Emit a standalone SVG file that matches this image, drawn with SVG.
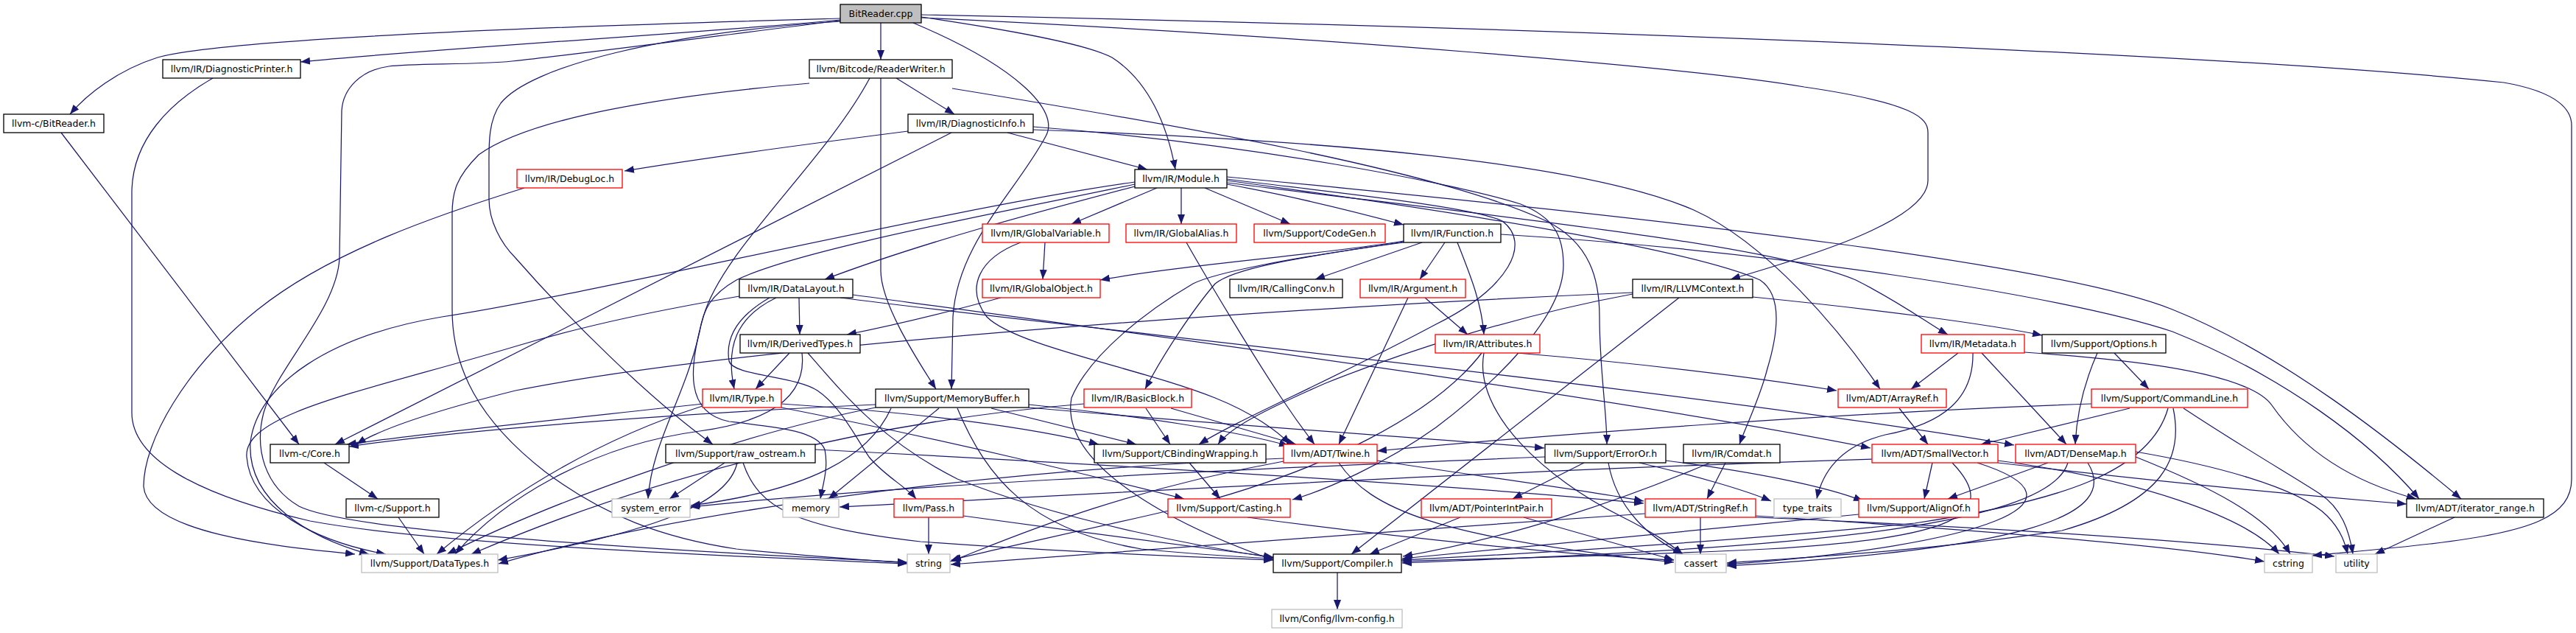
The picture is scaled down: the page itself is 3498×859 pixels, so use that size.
<svg xmlns="http://www.w3.org/2000/svg" width="3498" height="859" viewBox="0 0 3498 859">
<defs>
<style>
.n rect{fill:#fff;stroke:#000;stroke-width:1.3}
.n.r rect{stroke:#ff0000}
.n.g rect{stroke:#bfbfbf}
.n.root rect{fill:#bfbfbf}
text{font-family:"DejaVu Sans","Liberation Sans",sans-serif;font-size:12.5px;text-anchor:middle;fill:#000}
#edges path{fill:none;stroke:#191970;stroke-width:1.25;marker-end:url(#a)}
</style>
<marker id="a" viewBox="0 0 13 10" refX="13" refY="5" markerWidth="13" markerHeight="10" markerUnits="userSpaceOnUse" orient="auto"><path d="M0,0L13,5L0,10z" fill="#191970"/></marker>
</defs>
<rect width="3498" height="859" fill="#fff"/>
<g id="edges">
<path d="M1141,25 C900,32 320,48 214,78 C160,95 118,128 95,155"/>
<path d="M1141,27 C950,45 600,65 408,84"/>
<path d="M1141,28 C1000,45 800,72 695,83 C650,88 560,86 528,90 C490,95 466,120 464,150 L461,350 C458,420 375,500 358,560 C345,610 360,660 406,687 C480,725 1000,752 1232,763"/>
<path d="M1141,29 C900,45 720,90 680,140 C662,165 664,200 664,230 L664,270 C664,300 680,330 700,350 C770,430 880,540 968,603"/>
<path d="M1196,31 L1196,81"/>
<path d="M1240,31 C1380,90 1440,150 1420,185 C1380,260 1300,330 1294,430 L1292,528"/>
<path d="M1251,23 C1400,45 1480,62 1510,78 C1560,110 1585,170 1596,230"/>
<path d="M1251,20 C2000,35 3000,70 3400,112 C3475,125 3492,150 3492,170 L3492,650 C3492,700 3440,722 3300,738 C3250,744 3180,750 3140,754"/>
<path d="M1251,24 C1800,50 2300,92 2450,118 C2600,140 2618,160 2618,180 L2618,245 C2618,300 2450,350 2350,379"/>
<path d="M83,180 L406,603"/>
<path d="M289,106 C230,140 180,190 179,260 L179,560 C179,620 260,670 421,707 C600,740 1000,755 1232,765"/>
<path d="M1217,106 L1296,155"/>
<path d="M1196,106 L1196,367 C1196,410 1240,480 1271,528"/>
<path d="M1181,106 C1120,220 980,340 955,430 C935,500 930,560 990,572 C1060,580 1110,585 1120,610 C1125,635 1118,655 1114,677"/>
<path d="M1293,120 C1600,170 1950,230 2100,300 C2160,330 2172,380 2172,430 C2172,500 2182,560 2182,603"/>
<path d="M1099,113 C900,130 720,160 650,210 C620,240 614,260 614,290 L614,420 C614,500 650,570 740,640 C820,700 900,730 1000,745 C1100,755 1180,760 1232,764"/>
<path d="M1233,178 C1100,195 950,215 848,232"/>
<path d="M1292,180 L455,603"/>
<path d="M1368,180 L1558,230"/>
<path d="M1403,176 C1800,190 2150,220 2300,285 C2400,330 2500,450 2553,528"/>
<path d="M1403,172 C1700,195 1980,250 2065,277 C2110,295 2123,320 2123,360 C2123,430 2030,520 1950,580 C1880,630 1800,665 1755,678"/>
<path d="M712,255 C600,290 450,340 350,420 C250,500 195,600 195,660 C200,730 420,745 482,752"/>
<path d="M1541,253 C1400,290 1250,330 1120,379"/>
<path d="M1541,247 C1300,280 800,400 600,430 C450,455 350,520 340,600 C335,680 420,730 501,752"/>
<path d="M1541,250 C1350,290 1080,340 1000,380 C965,400 955,420 950,450 C930,540 885,600 880,677"/>
<path d="M1571,255 L1455,304"/>
<path d="M1604,255 L1604,304"/>
<path d="M1636,255 L1752,304"/>
<path d="M1666,250 C1750,265 1850,290 1906,305"/>
<path d="M1666,245 C2000,290 2300,340 2390,380 C2420,400 2415,450 2400,500 C2390,540 2370,580 2362,603"/>
<path d="M1666,248 C2000,290 2400,330 2520,380 C2580,410 2620,440 2645,454"/>
<path d="M1666,243 C1800,260 2000,280 2040,300 C2080,330 2050,390 1950,440 C1800,520 1680,570 1628,603"/>
<path d="M1666,240 C2300,300 2800,360 2950,420 C3100,480 3250,600 3342,677"/>
<path d="M1906,327 C1800,345 1600,360 1494,380"/>
<path d="M1906,328 C1800,345 1680,360 1650,385 C1620,420 1580,480 1555,528"/>
<path d="M1906,329 C1750,350 1650,370 1620,385 C1560,420 1480,480 1455,540 C1440,620 1560,700 1729,760"/>
<path d="M1931,329 L1786,379"/>
<path d="M1962,329 L1928,379"/>
<path d="M1979,329 C1995,370 2012,410 2015,454"/>
<path d="M2038,318 C2400,340 2800,400 2950,450 C3100,510 3220,600 3285,677"/>
<path d="M1004,402 C900,420 800,440 700,470 C500,530 330,560 335,620 C340,690 430,735 524,752"/>
<path d="M1054,404 C1000,430 985,470 997,528"/>
<path d="M1045,404 C1000,430 985,460 990,490 C995,510 1080,510 1110,530 C1140,550 1160,590 1180,620 C1200,645 1230,660 1244,677"/>
<path d="M1085,404 L1086,454"/>
<path d="M1158,400 C1600,460 2200,540 2540,608"/>
<path d="M1141,404 C1500,450 2300,530 2735,604"/>
<path d="M1419,329 L1416,379"/>
<path d="M1386,329 C1330,350 1310,390 1340,430 C1380,470 1550,500 1650,540 C1700,560 1735,585 1752,603"/>
<path d="M1611,329 C1640,380 1700,480 1740,540 C1760,570 1775,590 1785,603"/>
<path d="M1912,404 L1818,603"/>
<path d="M1935,404 L1993,454"/>
<path d="M2217,397 C1700,420 1000,470 700,530 C600,555 520,580 484,603"/>
<path d="M2217,399 C2050,430 1900,480 1800,520 C1720,555 1670,580 1654,603"/>
<path d="M2280,404 L1835,752"/>
<path d="M2380,403 C2550,420 2700,440 2773,455"/>
<path d="M1072,479 L1026,528"/>
<path d="M1089,479 C1095,530 1060,570 950,585 C800,605 680,680 618,752"/>
<path d="M1097,479 C1150,540 1200,600 1300,650 C1450,710 1650,745 1729,757"/>
<path d="M1359,404 C1300,420 1220,440 1150,454"/>
<path d="M954,548 C800,565 600,585 471,603"/>
<path d="M954,551 C800,600 680,680 593,752"/>
<path d="M1061,548 C1250,560 1400,580 1492,603"/>
<path d="M1061,553 C1300,600 1500,650 1608,677"/>
<path d="M1189,549 C950,560 650,580 474,606"/>
<path d="M1189,553 C1000,590 750,680 607,752"/>
<path d="M1275,554 L1125,677"/>
<path d="M1210,554 C1180,620 1100,665 938,686"/>
<path d="M1300,554 C1340,650 1400,720 1550,745 C1620,752 1690,756 1729,758"/>
<path d="M1346,554 L1543,603"/>
<path d="M1397,549 C1550,565 1680,585 1750,605"/>
<path d="M1397,553 C1700,580 1950,595 2097,608"/>
<path d="M1472,548 C1200,570 900,640 640,752"/>
<path d="M1556,554 L1589,603"/>
<path d="M1590,554 L1760,603"/>
<path d="M2579,554 L2618,603"/>
<path d="M2840,548 C2500,560 2100,590 1870,612"/>
<path d="M2892,554 L2690,603"/>
<path d="M2944,554 C2920,640 2800,680 2600,710 C2300,740 2000,755 1903,760"/>
<path d="M2951,554 C2965,620 2940,680 2800,720 C2600,750 2420,758 2345,764"/>
<path d="M2965,554 C3050,610 3120,650 3150,670 C3180,690 3190,720 3195,752"/>
<path d="M440,628 L513,677"/>
<path d="M1107,610 C1500,630 2000,660 2232,683"/>
<path d="M984,628 L909,677"/>
<path d="M1001,628 C990,680 900,720 676,760"/>
<path d="M1009,628 C1030,690 1080,715 1250,735 C1450,750 1650,757 1729,760"/>
<path d="M1615,628 L1657,677"/>
<path d="M1870,625 C2000,645 2150,665 2232,680"/>
<path d="M1818,628 C1860,690 1950,730 2273,763"/>
<path d="M1743,622 C1300,640 900,700 677,765"/>
<path d="M1743,626 C1500,670 1350,740 1290,762"/>
<path d="M2098,620 C1600,640 1200,660 937,688"/>
<path d="M2151,628 L2054,677"/>
<path d="M2184,628 C2195,690 2240,730 2285,752"/>
<path d="M2226,628 C2300,645 2370,665 2405,680"/>
<path d="M2262,625 C2380,640 2480,660 2530,680"/>
<path d="M2343,628 L2318,677"/>
<path d="M2322,628 C2200,680 2050,730 1905,755"/>
<path d="M2542,623 C2000,640 1500,670 1140,688"/>
<path d="M2624,628 L2613,677"/>
<path d="M2651,628 C2720,700 2650,730 2400,745 C2200,755 2000,758 1904,762"/>
<path d="M2685,628 C2850,680 2700,740 2345,766"/>
<path d="M2713,625 C2900,650 3050,700 3095,752"/>
<path d="M2713,628 C2900,650 3100,670 3268,684"/>
<path d="M2781,628 L2645,677"/>
<path d="M2808,628 C2780,720 2400,745 1904,764"/>
<path d="M2835,628 C2880,700 2750,745 2345,768"/>
<path d="M2900,613 C3000,630 3120,660 3160,700 C3180,720 3185,740 3188,752"/>
<path d="M2900,620 C3000,660 3080,700 3110,752"/>
<path d="M541,702 L576,752"/>
<path d="M1261,702 L1261,752"/>
<path d="M1308,700 C1450,720 1650,745 1729,756"/>
<path d="M1694,702 C1900,730 2150,755 2273,760"/>
<path d="M1983,702 L1860,752"/>
<path d="M2069,702 L2273,760"/>
<path d="M2234,697 C1900,720 1500,750 1291,766"/>
<path d="M2309,702 L2309,752"/>
<path d="M2384,700 C2700,720 2950,740 3075,762"/>
<path d="M2384,702 C2700,715 3000,735 3170,755"/>
<path d="M2524,698 C2300,720 2050,745 1904,758"/>
<path d="M3333,702 L3225,752"/>
<path d="M1816,777 L1816,827"/>
<path d="M2659,479 L2595,528"/>
<path d="M2679,479 C2680,540 2640,575 2560,590 C2500,605 2475,640 2467,677"/>
<path d="M2691,479 L2806,603"/>
<path d="M2749,478 C2850,485 3050,500 3085,550 C3120,600 3180,650 3281,677"/>
<path d="M2848,479 C2830,520 2820,560 2818,603"/>
<path d="M2871,479 L2918,528"/>
<path d="M2060,479 C2250,495 2400,515 2494,530"/>
<path d="M2015,479 C2000,560 2100,650 2200,700 C2250,725 2270,740 2285,752"/>
<path d="M2012,479 C1950,560 1800,640 1600,690 C1450,725 1350,745 1292,760"/>
</g>
<g id="n1" class="n root"><rect x="1141" y="6" width="110" height="25"/><text x="1196" y="23">BitReader.cpp</text></g>
<g id="n2" class="n"><rect x="221" y="81" width="187" height="25"/><text x="314.5" y="98">llvm/IR/DiagnosticPrinter.h</text></g>
<g id="n3" class="n"><rect x="1099" y="81" width="194" height="25"/><text x="1196" y="98">llvm/Bitcode/ReaderWriter.h</text></g>
<g id="n4" class="n"><rect x="5" y="155" width="136" height="25"/><text x="73" y="172">llvm-c/BitReader.h</text></g>
<g id="n5" class="n"><rect x="1233" y="155" width="170" height="25"/><text x="1318" y="172">llvm/IR/DiagnosticInfo.h</text></g>
<g id="n6" class="n r"><rect x="702" y="230" width="143" height="25"/><text x="773.5" y="247">llvm/IR/DebugLoc.h</text></g>
<g id="n7" class="n"><rect x="1541" y="230" width="125" height="25"/><text x="1603.5" y="247">llvm/IR/Module.h</text></g>
<g id="n8" class="n r"><rect x="1334" y="304" width="172" height="25"/><text x="1420" y="321">llvm/IR/GlobalVariable.h</text></g>
<g id="n9" class="n r"><rect x="1529" y="304" width="150" height="25"/><text x="1604" y="321">llvm/IR/GlobalAlias.h</text></g>
<g id="n10" class="n r"><rect x="1703" y="304" width="178" height="25"/><text x="1792" y="321">llvm/Support/CodeGen.h</text></g>
<g id="n11" class="n"><rect x="1906" y="304" width="132" height="25"/><text x="1972" y="321">llvm/IR/Function.h</text></g>
<g id="n12" class="n"><rect x="1004" y="379" width="154" height="25"/><text x="1081" y="396">llvm/IR/DataLayout.h</text></g>
<g id="n13" class="n r"><rect x="1334" y="379" width="160" height="25"/><text x="1414" y="396">llvm/IR/GlobalObject.h</text></g>
<g id="n14" class="n"><rect x="1670" y="379" width="153" height="25"/><text x="1746.5" y="396">llvm/IR/CallingConv.h</text></g>
<g id="n15" class="n r"><rect x="1847" y="379" width="143" height="25"/><text x="1918.5" y="396">llvm/IR/Argument.h</text></g>
<g id="n16" class="n"><rect x="2217" y="379" width="163" height="25"/><text x="2298.5" y="396">llvm/IR/LLVMContext.h</text></g>
<g id="n17" class="n"><rect x="1005" y="454" width="163" height="25"/><text x="1086.5" y="471">llvm/IR/DerivedTypes.h</text></g>
<g id="n18" class="n r"><rect x="1949" y="454" width="142" height="25"/><text x="2020" y="471">llvm/IR/Attributes.h</text></g>
<g id="n19" class="n r"><rect x="2609" y="454" width="140" height="25"/><text x="2679" y="471">llvm/IR/Metadata.h</text></g>
<g id="n20" class="n"><rect x="2773" y="454" width="168" height="25"/><text x="2857" y="471">llvm/Support/Options.h</text></g>
<g id="n21" class="n r"><rect x="954" y="528" width="107" height="25"/><text x="1007.5" y="545">llvm/IR/Type.h</text></g>
<g id="n22" class="n"><rect x="1189" y="528" width="208" height="25"/><text x="1293" y="545">llvm/Support/MemoryBuffer.h</text></g>
<g id="n23" class="n r"><rect x="1472" y="528" width="146" height="25"/><text x="1545" y="545">llvm/IR/BasicBlock.h</text></g>
<g id="n24" class="n r"><rect x="2496" y="528" width="147" height="25"/><text x="2569.5" y="545">llvm/ADT/ArrayRef.h</text></g>
<g id="n25" class="n r"><rect x="2840" y="528" width="212" height="25"/><text x="2946" y="545">llvm/Support/CommandLine.h</text></g>
<g id="n26" class="n"><rect x="367" y="603" width="107" height="25"/><text x="420.5" y="620">llvm-c/Core.h</text></g>
<g id="n27" class="n"><rect x="904" y="603" width="203" height="25"/><text x="1005.5" y="620">llvm/Support/raw_ostream.h</text></g>
<g id="n28" class="n"><rect x="1486" y="603" width="233" height="25"/><text x="1602.5" y="620">llvm/Support/CBindingWrapping.h</text></g>
<g id="n29" class="n r"><rect x="1743" y="603" width="127" height="25"/><text x="1806.5" y="620">llvm/ADT/Twine.h</text></g>
<g id="n30" class="n"><rect x="2098" y="603" width="164" height="25"/><text x="2180" y="620">llvm/Support/ErrorOr.h</text></g>
<g id="n31" class="n"><rect x="2286" y="603" width="131" height="25"/><text x="2351.5" y="620">llvm/IR/Comdat.h</text></g>
<g id="n32" class="n r"><rect x="2542" y="603" width="171" height="25"/><text x="2627.5" y="620">llvm/ADT/SmallVector.h</text></g>
<g id="n33" class="n r"><rect x="2737" y="603" width="163" height="25"/><text x="2818.5" y="620">llvm/ADT/DenseMap.h</text></g>
<g id="n34" class="n"><rect x="470" y="677" width="126" height="25"/><text x="533" y="694">llvm-c/Support.h</text></g>
<g id="n35" class="n g"><rect x="831" y="677" width="106" height="25"/><text x="884" y="694">system_error</text></g>
<g id="n36" class="n g"><rect x="1063" y="677" width="76" height="25"/><text x="1101" y="694">memory</text></g>
<g id="n37" class="n r"><rect x="1214" y="677" width="94" height="25"/><text x="1261" y="694">llvm/Pass.h</text></g>
<g id="n38" class="n r"><rect x="1586" y="677" width="166" height="25"/><text x="1669" y="694">llvm/Support/Casting.h</text></g>
<g id="n39" class="n r"><rect x="1930" y="677" width="177" height="25"/><text x="2018.5" y="694">llvm/ADT/PointerIntPair.h</text></g>
<g id="n40" class="n r"><rect x="2234" y="677" width="150" height="25"/><text x="2309" y="694">llvm/ADT/StringRef.h</text></g>
<g id="n41" class="n g"><rect x="2409" y="677" width="91" height="25"/><text x="2454.5" y="694">type_traits</text></g>
<g id="n42" class="n r"><rect x="2524" y="677" width="163" height="25"/><text x="2605.5" y="694">llvm/Support/AlignOf.h</text></g>
<g id="n43" class="n"><rect x="3268" y="677" width="186" height="25"/><text x="3361" y="694">llvm/ADT/iterator_range.h</text></g>
<g id="n44" class="n g"><rect x="491" y="752" width="185" height="25"/><text x="583.5" y="769">llvm/Support/DataTypes.h</text></g>
<g id="n45" class="n g"><rect x="1232" y="752" width="58" height="25"/><text x="1261" y="769">string</text></g>
<g id="n46" class="n"><rect x="1729" y="752" width="174" height="25"/><text x="1816" y="769">llvm/Support/Compiler.h</text></g>
<g id="n47" class="n g"><rect x="2275" y="752" width="69" height="25"/><text x="2309.5" y="769">cassert</text></g>
<g id="n48" class="n g"><rect x="3075" y="752" width="65" height="25"/><text x="3107.5" y="769">cstring</text></g>
<g id="n49" class="n g"><rect x="3172" y="752" width="56" height="25"/><text x="3200" y="769">utility</text></g>
<g id="n50" class="n g"><rect x="1727" y="827" width="177" height="25"/><text x="1815.5" y="844">llvm/Config/llvm-config.h</text></g>
</svg>
